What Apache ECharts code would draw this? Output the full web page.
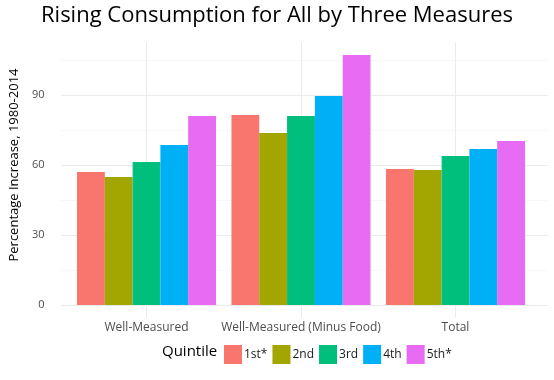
<!DOCTYPE html>
<html>
<head>
<meta charset="utf-8">
<script src="https://cdn.jsdelivr.net/npm/echarts@6/dist/echarts.min.js"></script>
<style>html,body{margin:0;padding:0;background:#fff;}#c{width:554px;height:380px;}</style>
</head>
<body>
<div id="c"></div>
<script>
var categories = ['Well-Measured', 'Well-Measured (Minus Food)', 'Total'];
var quintiles = ['1st*', '2nd', '3rd', '4th', '5th*'];
var q1 = [57.0, 81.4, 58.3];
var q2 = [54.9, 73.7, 57.9];
var q3 = [61.3, 81.0, 63.9];
var q4 = [68.6, 89.6, 66.9];
var q5 = [81.0, 107.1, 70.3];
var yTicks = [0, 30, 60, 90];
var colors = ['#F8766D', '#A3A500', '#00BF7D', '#00B0F6', '#E76BF3'];
var values = [q1, q2, q3, q4, q5];
var FONT = 'Open Sans';

var chart = echarts.init(document.getElementById('c'), null, {renderer: 'canvas'});
var series = quintiles.map(function (q, i) {
  return {
    name: q, type: 'bar', xAxisIndex: 1, yAxisIndex: 1,
    data: values[i], barGap: '0%', barCategoryGap: '10%',
    itemStyle: {color: colors[i], borderColor: colors[i], borderWidth: 1.2}
  };
});
chart.setOption({
  animation: false,
  textStyle: {fontFamily: FONT},
  title: [
    {text: 'Rising Consumption for All by Three Measures', left: 'center', top: 5, padding: 0,
     textStyle: {fontSize: 22, fontWeight: 'normal', color: '#000', fontFamily: FONT}},
    {text: 'Quintile', left: 162, top: 344, padding: 0,
     textStyle: {fontSize: 15, fontWeight: 'normal', color: '#000', fontFamily: FONT}}
  ],
  legend: {
    data: quintiles, left: 224, top: 345, padding: 0, itemWidth: 16, itemHeight: 17, itemGap: 5,
    icon: 'rect', textStyle: {fontSize: 12, color: '#1a1a1a', fontFamily: FONT, padding: [0, 0, 0, -2]}
  },
  grid: [
    {left: 54, right: 6, top: 25, bottom: 75},
    {left: 69.25, right: 21.25, top: 42, bottom: 62.5}
  ],
  xAxis: [
    {type: 'value', gridIndex: 0, show: false},
    {type: 'category', gridIndex: 1, data: categories,
     axisLine: {show: false}, axisTick: {show: false, alignWithLabel: true},
     axisLabel: {fontSize: 12, color: '#4d4d4d', margin: 4, interval: 0, fontFamily: FONT},
     splitLine: {show: true, alignWithLabel: true, lineStyle: {color: '#ebebeb', width: 1}}}
  ],
  yAxis: [
    {type: 'value', gridIndex: 0, min: 0, max: 120, interval: 30,
     name: 'Percentage Increase, 1980-2014', nameLocation: 'middle', nameGap: 35,
     nameTextStyle: {fontSize: 13, color: '#000', fontFamily: FONT},
     axisLine: {show: false}, axisTick: {show: false},
     axisLabel: {fontSize: 11, color: '#4d4d4d', margin: 17, showMaxLabel: false, fontFamily: FONT,
       formatter: function (v) { return yTicks.indexOf(v) >= 0 ? String(v) : ''; }},
     splitLine: {show: true, showMaxLine: false,
       lineStyle: {color: ['#ebebeb', '#ebebeb', '#ebebeb', '#ebebeb', 'rgba(0,0,0,0)'], width: 1}},
     minorTick: {show: false, splitNumber: 2},
     minorSplitLine: {show: true, lineStyle: {color: '#f0f0f0', width: 1, type: 'dotted'}}},
    {type: 'value', gridIndex: 1, min: -5.357, max: 112.7, show: false, splitLine: {show: false}}
  ],
  series: series
});
</script>
</body>
</html>
